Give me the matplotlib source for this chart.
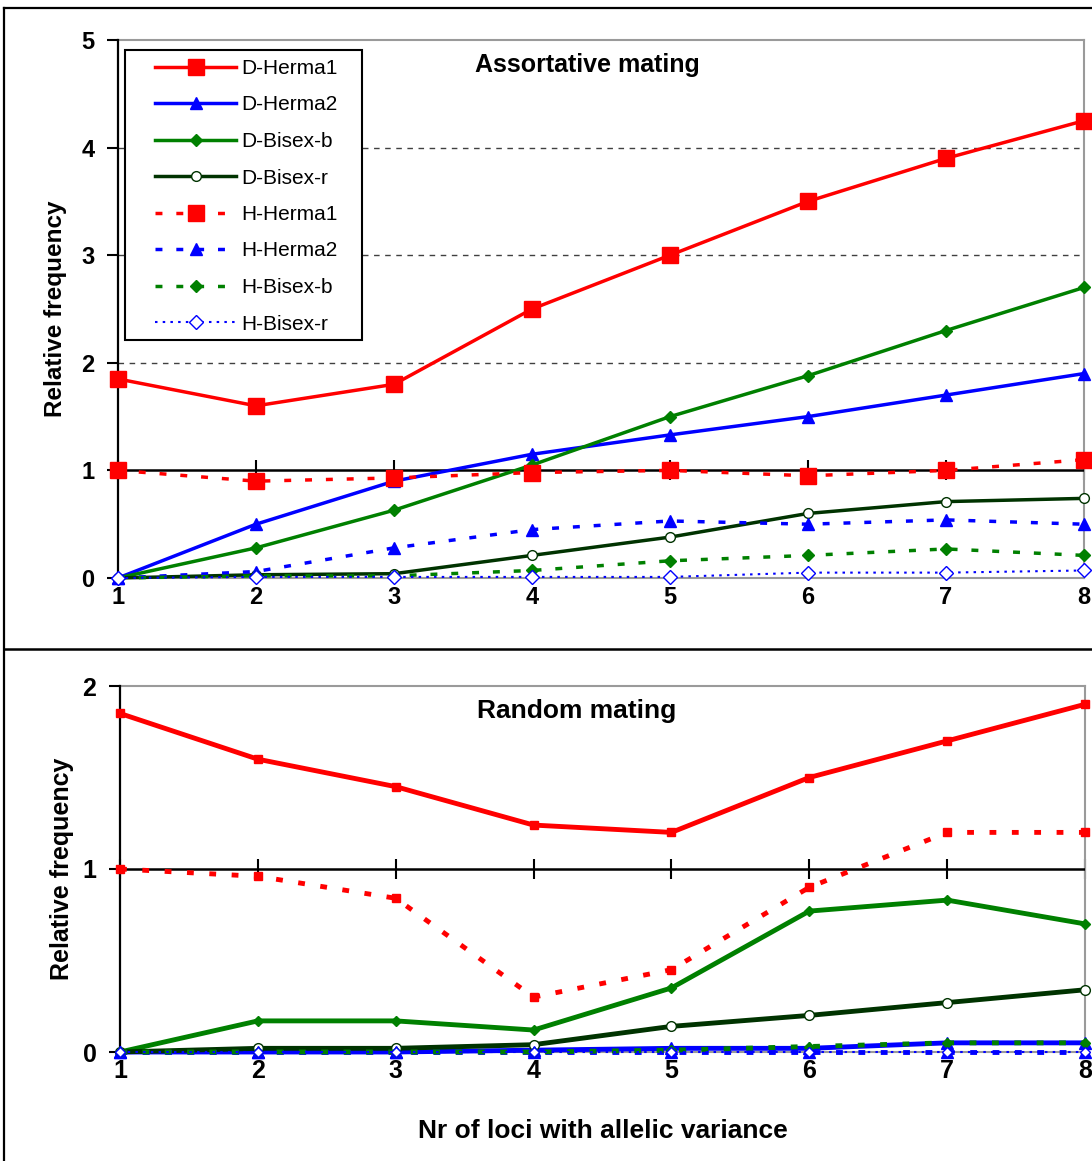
import matplotlib
matplotlib.use("Agg")
import matplotlib.pyplot as plt
from matplotlib.lines import Line2D
from matplotlib.patches import Rectangle

# ---------------- data ----------------
loci = [1, 2, 3, 4, 5, 6, 7, 8]
series_names = ["D-Herma1", "D-Herma2", "D-Bisex-b", "D-Bisex-r",
                "H-Herma1", "H-Herma2", "H-Bisex-b", "H-Bisex-r"]

# Assortative mating (top panel)
assort_d_herma1 = [1.85, 1.60, 1.80, 2.50, 3.00, 3.50, 3.90, 4.25]
assort_d_herma2 = [0.00, 0.50, 0.90, 1.15, 1.33, 1.50, 1.70, 1.90]
assort_d_bisex_b = [0.00, 0.28, 0.63, 1.05, 1.50, 1.88, 2.30, 2.70]
assort_d_bisex_r = [0.00, 0.03, 0.04, 0.21, 0.38, 0.60, 0.71, 0.74]
assort_h_herma1 = [1.00, 0.90, 0.93, 0.98, 1.00, 0.95, 1.00, 1.10]
assort_h_herma2 = [0.00, 0.06, 0.28, 0.45, 0.53, 0.50, 0.54, 0.50]
assort_h_bisex_b = [0.00, 0.02, 0.02, 0.07, 0.16, 0.21, 0.27, 0.21]
assort_h_bisex_r = [0.00, 0.01, 0.01, 0.01, 0.01, 0.05, 0.05, 0.07]

# Random mating (bottom panel)
random_d_herma1 = [1.85, 1.60, 1.45, 1.24, 1.20, 1.50, 1.70, 1.90]
random_d_herma2 = [0.00, 0.00, 0.00, 0.01, 0.02, 0.02, 0.05, 0.05]
random_d_bisex_b = [0.00, 0.17, 0.17, 0.12, 0.35, 0.77, 0.83, 0.70]
random_d_bisex_r = [0.00, 0.02, 0.02, 0.04, 0.14, 0.20, 0.27, 0.34]
random_h_herma1 = [1.00, 0.96, 0.84, 0.30, 0.45, 0.90, 1.20, 1.20]
random_h_herma2 = [0.00, 0.00, 0.00, 0.00, 0.00, 0.00, 0.00, 0.00]
random_h_bisex_b = [0.00, 0.00, 0.00, 0.00, 0.01, 0.03, 0.05, 0.05]
random_h_bisex_r = [0.00, 0.00, 0.00, 0.00, 0.00, 0.00, 0.00, 0.00]

top_title = "Assortative mating"
bottom_title = "Random mating"
ylabel = "Relative frequency"
xlabel = "Nr of loci with allelic variance"

REG = ["Liberation Sans", "DejaVu Sans"]

W, H = 1092, 1161
fig = plt.figure(figsize=(W / 100, H / 100), dpi=100)


def fx(px):
    return px / W


def fy(py):
    return 1 - py / H


# outer frame and separator
fig.add_artist(Line2D([fx(4), fx(4)], [fy(8), fy(1165)], color="black", lw=1.6))
fig.add_artist(Line2D([fx(4), fx(1095)], [fy(8), fy(8)], color="black", lw=1.6))
fig.add_artist(Line2D([fx(4), fx(1095)], [fy(649), fy(649)], color="black", lw=1.8))

RED, BLUE, GREEN, DKGREEN = "#ff0000", "#0000ff", "#008000", "#003300"


def style_axes(ax, ymax, yticks, tick_fs, xpad, ypad):
    ax.set_xlim(1, 8)
    ax.set_ylim(0, ymax)
    for s in ["top", "right", "bottom"]:
        ax.spines[s].set_color("#9a9a9a")
        ax.spines[s].set_linewidth(1.5)
        ax.spines[s].set_zorder(0.5)
    ax.spines["left"].set_color("black")
    ax.spines["left"].set_linewidth(1.6)
    ax.set_yticks(yticks)
    ax.set_yticklabels([str(t) for t in yticks], fontsize=tick_fs, fontweight="bold", family=REG)
    ax.tick_params(axis="y", direction="out", length=8, width=1.5, pad=ypad)
    ax.set_xticks(loci)
    ax.set_xticklabels([str(v) for v in loci], fontsize=tick_fs, fontweight="bold", family=REG)
    ax.tick_params(axis="x", length=0, pad=xpad)
    # horizontal axis crossing at 1
    ax.axhline(1, color="black", lw=1.8, zorder=1)
    sec = ax.secondary_xaxis(1.0 / ymax)
    sec.set_xticks(loci)
    sec.set_xticklabels([])
    sec.tick_params(axis="x", direction="inout", length=14, width=1.5, color="black")
    for s in ["top", "left", "right", "bottom"]:
        sec.spines[s].set_visible(False)
    ax.set_facecolor("white")


# ---------------- top panel ----------------
ax1 = fig.add_axes([fx(118), fy(578), fx(1084) - fx(118), fy(40) - fy(578)])
style_axes(ax1, 5, [0, 1, 2, 3, 4, 5], 17, 6, 9)
for g in [2, 3, 4]:
    ax1.axhline(g, color="#404040", lw=1.0, ls=(0, (4, 4)), zorder=0.6)

lw_t = 2.5
dash_t = (0, (2, 4))
top_series = [
    (assort_d_herma1, dict(color=RED, lw=lw_t, ls="-", marker="s", ms=12, mfc=RED, mec=RED)),
    (assort_d_herma2, dict(color=BLUE, lw=lw_t, ls="-", marker="^", ms=9, mfc=BLUE, mec=BLUE)),
    (assort_d_bisex_b, dict(color=GREEN, lw=lw_t, ls="-", marker="D", ms=6, mfc=GREEN, mec=GREEN)),
    (assort_d_bisex_r, dict(color=DKGREEN, lw=lw_t, ls="-", marker="o", ms=7, mfc="white", mec=DKGREEN, mew=1.0)),
    (assort_h_herma1, dict(color=RED, lw=lw_t, ls=dash_t, marker="s", ms=12, mfc=RED, mec=RED)),
    (assort_h_herma2, dict(color=BLUE, lw=lw_t, ls=dash_t, marker="^", ms=9, mfc=BLUE, mec=BLUE)),
    (assort_h_bisex_b, dict(color=GREEN, lw=lw_t, ls=dash_t, marker="D", ms=6, mfc=GREEN, mec=GREEN)),
    (assort_h_bisex_r, dict(color=BLUE, lw=1.5, ls=(0, (1.2, 2.5)), marker="D", ms=7, mfc="white", mec=BLUE, mew=1.0)),
]
handles = []
for (vals, kw), name in zip(top_series, series_names):
    h, = ax1.plot(loci, vals, label=name, clip_on=False, zorder=3, **kw)
    handles.append(h)

# legend frame (white box with black border)
ax1.add_patch(Rectangle(((125 - 118) / 966, (578 - 340) / 538), (362 - 125) / 966, (340 - 50) / 538,
                        transform=ax1.transAxes, facecolor="white", edgecolor="black",
                        lw=1.5, zorder=4, clip_on=False))
leg = ax1.legend(handles=handles, loc="upper left", bbox_to_anchor=((155 - 118) / 966, (578 - 59) / 538),
                 borderaxespad=0, borderpad=0, frameon=False,
                 handlelength=3.9, handletextpad=0.25, labelspacing=0.84, numpoints=1,
                 prop={"family": REG, "size": 15})
leg.set_zorder(5)

ax1.text(0.486, 0.953, top_title, transform=ax1.transAxes, ha="center", va="center",
         fontsize=18, fontweight="bold", family=REG)
ax1.set_ylabel(ylabel, fontsize=17.5, fontweight="bold", family=REG, labelpad=10)

# ---------------- bottom panel ----------------
ax2 = fig.add_axes([fx(120), fy(1052), fx(1085) - fx(120), fy(686) - fy(1052)])
style_axes(ax2, 2, [0, 1, 2], 18, 5, 9)

lw_b = 3.5
dash_b = (0, (1.4, 3.2))
bottom_series = [
    (random_d_herma1, dict(color=RED, lw=lw_b, ls="-", marker="s", ms=6, mfc=RED, mec=RED)),
    (random_d_herma2, dict(color=BLUE, lw=lw_b, ls="-", marker="^", ms=8, mfc=BLUE, mec=BLUE)),
    (random_d_bisex_b, dict(color=GREEN, lw=lw_b, ls="-", marker="D", ms=5, mfc=GREEN, mec=GREEN)),
    (random_d_bisex_r, dict(color=DKGREEN, lw=lw_b, ls="-", marker="o", ms=7, mfc="white", mec=DKGREEN, mew=1.0)),
    (random_h_herma1, dict(color=RED, lw=lw_b, ls=dash_b, marker="s", ms=6, mfc=RED, mec=RED)),
    (random_h_herma2, dict(color=BLUE, lw=lw_b, ls=dash_b, marker="^", ms=8, mfc=BLUE, mec=BLUE)),
    (random_h_bisex_b, dict(color=GREEN, lw=lw_b, ls=dash_b, marker="D", ms=5, mfc=GREEN, mec=GREEN)),
    (random_h_bisex_r, dict(color=BLUE, lw=1.5, ls=(0, (1.2, 2.5)), marker="D", ms=5, mfc="white", mec=BLUE, mew=1.0)),
]
for (vals, kw), name in zip(bottom_series, series_names):
    ax2.plot(loci, vals, label=name, clip_on=False, zorder=3, **kw)

ax2.text(0.473, 0.933, bottom_title, transform=ax2.transAxes, ha="center", va="center",
         fontsize=19, fontweight="bold", family=REG)
ax2.set_ylabel(ylabel, fontsize=18, fontweight="bold", family=REG, labelpad=6)
ax2.set_xlabel(xlabel, fontsize=19, fontweight="bold", family=REG, labelpad=26)

fig.savefig("out.png", dpi=100, facecolor="white")
